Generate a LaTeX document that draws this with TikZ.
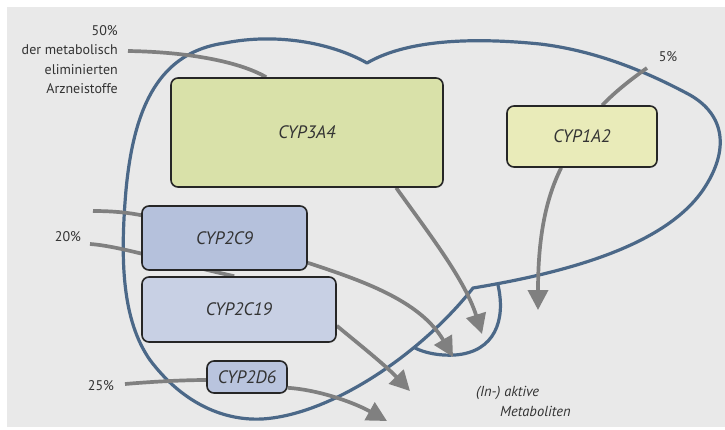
\documentclass[tikz,border=0pt]{standalone}
\usepackage{fontspec}
\setmainfont{PT Sans}
\usetikzlibrary{arrows.meta}
\definecolor{bgc}{HTML}{E9E9E9}
\definecolor{liverc}{HTML}{4B6888}
\definecolor{arrowc}{HTML}{808080}
\definecolor{txt}{HTML}{333333}
\definecolor{fA}{HTML}{D9E1A9}
\definecolor{fB}{HTML}{E9EBB9}
\definecolor{fC}{HTML}{B5C1DC}
\definecolor{fD}{HTML}{C8D0E4}
\definecolor{fE}{HTML}{B9C4DE}
\pgfdeclarelayer{bglayer}
\pgfdeclarelayer{linelayer}
\pgfsetlayers{bglayer,linelayer,main}
\begin{document}
\begin{tikzpicture}[x=1pt,y=-1pt,
  box/.style={draw=black!85, line width=1.6pt, rounded corners=7pt, inner sep=0pt,
    font=\itshape\fontsize{18}{20}\selectfont, text=txt},
  feed/.style={draw=arrowc, line width=3.7pt},
  flow/.style={feed, -{Triangle[length=20pt,width=20pt]}},
  liver/.style={draw=liverc, line width=3.2pt, line join=round},
  lbl/.style={font=\fontsize{14}{19.5}\selectfont, text=txt, inner sep=0pt},
  ilbl/.style={lbl, font=\itshape\fontsize{14.5}{18}\selectfont}]
\useasboundingbox (0,0) rectangle (725,429);
\begin{pgfonlayer}{bglayer}
  \fill[white] (0,0) rectangle (725,429);
  \fill[bgc] (7,7) rectangle (725,427);
\end{pgfonlayer}

% boxes
\node[box, fill=fA, minimum width=272pt, minimum height=109pt] (c3a4) at (307,132.5) {CYP3A4};
\node[box, fill=fB, minimum width=150pt, minimum height=61pt] (c1a2) at (582,136.5) {CYP1A2};
\node[box, fill=fC, minimum width=165pt, minimum height=64pt] (c2c9) at (224.5,238) {CYP2C9};
\node[box, fill=fD, minimum width=194pt, minimum height=65pt] (c2c19) at (239,309.5) {CYP2C19};
\node[box, fill=fE, minimum width=80pt, minimum height=32pt] (c2d6) at (247,377) {CYP2D6};

% labels
\node[lbl, anchor=east, align=right] (l50) at (118,59.5) {50\%\\der metabolisch\\eliminierten\\Arzneistoffe};
\node[lbl] (l5) at (668,57) {5\%};
\node[lbl] (l20) at (68,237) {20\%};
\node[lbl] (l25) at (101,386) {25\%};
\node[ilbl, anchor=west] (m1) at (476,393) {(In-) aktive};
\node[ilbl, anchor=west] (m2) at (500,411) {Metaboliten};

% free ends
\coordinate (s50) at (128,51);
\coordinate (s5) at (647,68);
\coordinate (s20a) at (93,211);
\coordinate (s20b) at (90,244);
\coordinate (s25) at (125,384);
\coordinate (t3a4) at (482,334);
\coordinate (t1a2) at (538,310);
\coordinate (t2c9) at (453,357);
\coordinate (t2c19) at (410,391);
\coordinate (t2d6) at (387,421);

\begin{pgfonlayer}{linelayer}
  % liver outline
  \draw[liver] (367,63) .. controls (330,42) and (275,33) .. (225,43)
    .. controls (160,52) and (134,105) .. (126,190)
    .. controls (120,260) and (122,320) .. (150,360)
    .. controls (180,400) and (220,421) .. (262,419)
    .. controls (330,415) and (420,355) .. (473,288)
    .. controls (570,272) and (665,245) .. (703,190)
    .. controls (730,150) and (725,115) .. (690,95)
    .. controls (640,68) and (590,50) .. (540,44)
    .. controls (480,38) and (410,38) .. cycle;
  \draw[liver] (498,285) .. controls (506,320) and (495,352) .. (455,355)
    .. controls (440,356) and (425,353) .. (415,348);
  % feeds
  \draw[feed] (s50) .. controls (190,52) and (240,62) .. ([xshift=96pt]c3a4.north west);
  \draw[feed] (s5) .. controls (630,80) and (615,92) .. ([xshift=96pt]c1a2.north west);
  \draw[feed] (s20a) .. controls (115,211) and (130,213) .. ([yshift=-10pt]c2c9.north west);
  \draw[feed] (s20b) .. controls (120,246) and (170,262) .. ([xshift=93pt]c2c19.north west);
  \draw[feed] (s25) .. controls (160,381) and (190,380) .. ([yshift=-3pt]c2d6.west);
  % outflows
  \draw[flow] ([xshift=226pt]c3a4.south west) .. controls (430,235) and (465,280) .. (t3a4);
  \draw[flow] ([xshift=55pt]c1a2.south west) .. controls (545,200) and (538,240) .. (t1a2);
  \draw[flow] ([yshift=8pt]c2c9.south east) .. controls (360,280) and (420,300) .. (t2c9);
  \draw[flow] ([yshift=17pt]c2c19.south east) .. controls (360,345) and (385,365) .. (t2c19);
  \draw[flow] ([yshift=6pt]c2d6.south east) .. controls (320,390) and (355,403) .. (t2d6);
\end{pgfonlayer}
\end{tikzpicture}
\end{document}
